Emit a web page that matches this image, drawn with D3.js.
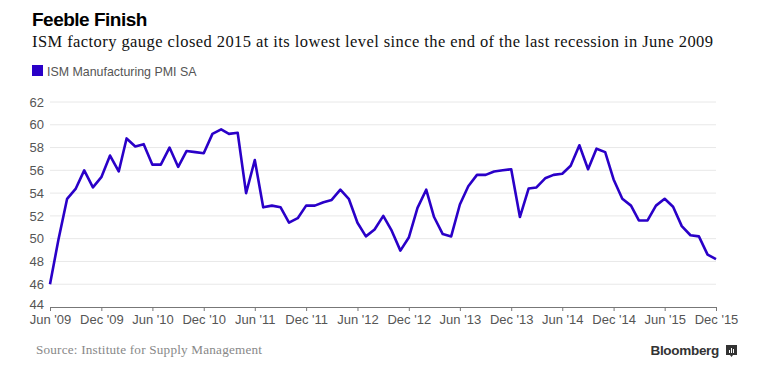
<!DOCTYPE html>
<html><head><meta charset="utf-8">
<script src="https://cdn.jsdelivr.net/npm/d3@7"></script>
<style>
body{margin:0;background:#fff;}
svg{display:block;}
</style></head>
<body>
<svg id="chart" width="770" height="378"></svg>
<script>
const startDate = "2009-06";
const pmiValues = [
  46.0, 49.9, 53.5, 54.4, 56.0, 54.5, 55.4,
  57.3, 55.9, 58.8, 58.1, 58.3, 56.5, 56.5, 58.0, 56.3, 57.7, 57.6, 57.5,
  59.2, 59.6, 59.2, 59.3, 54.0, 56.9, 52.75, 52.9, 52.75, 51.4, 51.8, 52.9,
  52.9, 53.2, 53.4, 54.3, 53.5, 51.4, 50.2, 50.8, 52.0, 50.7, 48.95, 50.1,
  52.7, 54.3, 51.9, 50.4, 50.2, 53.0, 54.6, 55.6, 55.6, 55.9, 56.0, 56.1,
  51.9, 54.4, 54.5, 55.3, 55.6, 55.7, 56.4, 58.2, 56.1, 57.9, 57.6, 55.2,
  53.5, 52.9, 51.6, 51.6, 52.9, 53.5, 52.8, 51.1, 50.3, 50.2, 48.6, 48.2
];
const yTicks = [44, 46, 48, 50, 52, 54, 56, 58, 60, 62];
const xTickLabels = ["Jun '09","Dec '09","Jun '10","Dec '10","Jun '11","Dec '11","Jun '12","Dec '12","Jun '13","Dec '13","Jun '14","Dec '14","Jun '15","Dec '15"];
const seriesName = "ISM Manufacturing PMI SA";
const title = "Feeble Finish";
const subtitle = "ISM factory gauge closed 2015 at its lowest level since the end of the last recession in June 2009";
const source = "Source: Institute for Supply Management";

const parse = d3.timeParse("%Y-%m");
const start = parse(startDate);
const data = pmiValues.map((v, i) => ({date: d3.timeMonth.offset(start, i), value: v}));
const xTickDates = xTickLabels.map((_, i) => d3.timeMonth.offset(start, i * 6));

const svg = d3.select("#chart");
const x = d3.scaleTime().domain([data[0].date, data[data.length - 1].date]).range([50, 716]);
const y = d3.scaleLinear().domain([44, 62]).range([307, 102]);
const color = "#2a00c8";
const sans = "'Liberation Sans', Arial, sans-serif";
const serif = "'Liberation Serif', 'DejaVu Serif', serif";

// title
svg.append("text").attr("x", 32).attr("y", 26)
  .style("font-family", sans).style("font-weight", "bold")
  .style("font-size", "19px").style("letter-spacing", "-0.5px").attr("fill", "#000").text(title);
svg.append("text").attr("x", 32).attr("y", 47)
  .style("font-family", serif)
  .style("font-size", "16.5px").attr("textLength", 681).attr("lengthAdjust", "spacing")
  .attr("fill", "#111").text(subtitle);

// legend
svg.append("rect").attr("x", 32).attr("y", 65).attr("width", 11).attr("height", 11).attr("fill", color);
svg.append("text").attr("x", 47).attr("y", 75.5)
  .style("font-family", sans).style("font-size", "12.4px")
  .attr("fill", "#555").text(seriesName);

// grid
svg.append("g").selectAll("line").data(yTicks.filter(d => d !== 44)).join("line")
  .attr("x1", 50).attr("x2", 716).attr("y1", d => y(d)).attr("y2", d => y(d))
  .attr("stroke", "#e8e8e8").attr("stroke-width", 1);

// y axis labels
const yAxis = d3.axisLeft(y).tickValues(yTicks).tickSize(0).tickPadding(6).tickFormat(d3.format("d"));
const gy = svg.append("g").attr("transform", "translate(50,0)").call(yAxis);
gy.select(".domain").remove();
gy.selectAll("text").style("font-family", sans)
  .style("font-size", "13px").attr("fill", "#555");
gy.selectAll(".tick").filter(d => d === 44).select("text").attr("dy", "0.1em");

// x axis
const xAxis = d3.axisBottom(x).tickValues(xTickDates).tickSize(4).tickPadding(4)
  .tickFormat((d, i) => xTickLabels[i]).tickSizeOuter(0);
const gx = svg.append("g").attr("transform", "translate(0,307)").call(xAxis);
gx.select(".domain").attr("stroke", "#777");
gx.selectAll(".tick line").attr("stroke", "#777");
gx.selectAll("text").style("font-family", sans)
  .style("font-size", "13px").attr("fill", "#555");

// line
const line = d3.line().x(d => x(d.date)).y(d => y(d.value));
svg.append("path").datum(data).attr("d", line).attr("fill", "none")
  .attr("stroke", color).attr("stroke-width", 2.6).attr("stroke-linejoin", "round");

// footer
svg.append("text").attr("x", 36).attr("y", 354)
  .style("font-family", serif)
  .style("font-size", "13.2px").attr("textLength", 226).attr("lengthAdjust", "spacing")
  .attr("fill", "#888").text(source);
svg.append("text").attr("x", 719).attr("y", 355).attr("text-anchor", "end")
  .style("font-family", sans).style("font-weight", "bold")
  .style("font-size", "13.5px").style("letter-spacing", "-0.3px").attr("fill", "#333").text("Bloomberg");
const logo = svg.append("g").attr("transform", "translate(726,345)");
logo.append("rect").attr("width", 11).attr("height", 10).attr("fill", "#333");
logo.append("path").attr("d", "M4,10 L5.5,12 L7,10 Z").attr("fill", "#333");
logo.selectAll("rect.bar").data([[3, 5], [5, 3], [7, 4]]).join("rect").attr("class", "bar")
  .attr("x", d => d[0]).attr("y", d => d[1]).attr("width", 1).attr("height", d => 8 - d[1])
  .attr("fill", "#fff");
</script>
</body></html>
